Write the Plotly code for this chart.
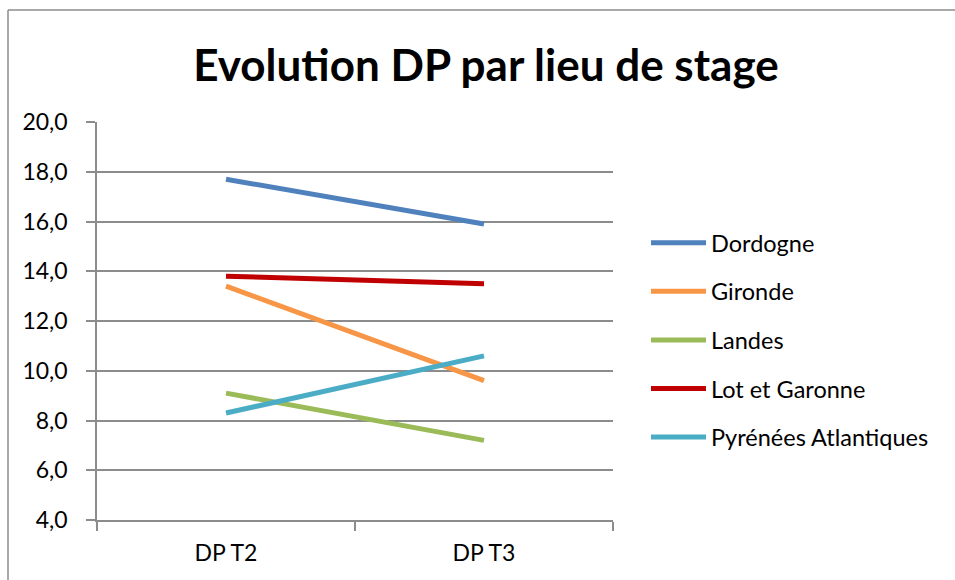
import plotly.graph_objects as go

# Évolution de la DP par lieu de stage
periodes = ["DP T2", "DP T3"]
lieux = ["Dordogne", "Gironde", "Landes", "Lot et Garonne", "Pyrénées Atlantiques"]
dordogne = [17.7, 15.9]
gironde = [13.4, 9.6]
landes = [9.1, 7.2]
lot_et_garonne = [13.8, 13.5]
pyrenees_atlantiques = [8.3, 10.6]
couleurs = ["#4F81BD", "#F79646", "#9BBB59", "#C00000", "#4BACC6"]

series = [dordogne, gironde, landes, lot_et_garonne, pyrenees_atlantiques]

FONT = "Lato"
GRID = "#8C8C8C"

fig = go.Figure()
for nom, valeurs, couleur in zip(lieux, series, couleurs):
    fig.add_trace(go.Scatter(
        x=periodes, y=valeurs, name=nom, mode="lines",
        legendgroup=nom,
        line=dict(color=couleur, width=5),
    ))

# plot area spans pixels x 97..613, y 122..520
L, R, T, B = 97, 613, 122, 520
W, H = 955, 580
pw, ph = R - L, B - T

def px(x):
    return (x - L) / pw

def py(y):
    return (B - y) / ph

fig.update_layout(
    width=W, height=H,
    margin=dict(l=L, r=W - R, t=T, b=H - B, pad=0),
    paper_bgcolor="white", plot_bgcolor="white",
    separators=", ",
    font=dict(family=FONT, size=23, color="#000000"),
    title=dict(
        text="<b>Evolution DP par lieu de stage</b>",
        font=dict(family=FONT, size=44, color="#000000"),
        x=486 / W, xanchor="center", xref="container",
        y=1 - 66 / H, yanchor="middle", yref="container",
    ),
    showlegend=True,
    legend=dict(
        x=px(646), xanchor="left",
        y=py(221), yanchor="top",
        font=dict(family=FONT, size=23.5, color="#000000"),
        tracegroupgap=15,
        bgcolor="rgba(0,0,0,0)",
        itemwidth=55,
    ),
    xaxis=dict(
        type="category",
        showgrid=False,
        showline=True, linecolor=GRID, linewidth=1.5,
        ticks="outside", ticklen=9, tickcolor=GRID, tickwidth=1.5,
        tickson="boundaries",
        tickfont=dict(family=FONT, size=23),
        ticklabelstandoff=12,
        range=[-0.5, 1.5],
        fixedrange=True,
    ),
    yaxis=dict(
        range=[4, 20], dtick=2, tick0=4,
        tickformat=".1f",
        showgrid=True, gridcolor=GRID, gridwidth=1.5,
        showline=True, linecolor=GRID, linewidth=1.5,
        ticks="outside", ticklen=9, tickcolor=GRID, tickwidth=1.5,
        tickfont=dict(family=FONT, size=23),
        ticklabelstandoff=14,
        zeroline=False,
        fixedrange=True,
    ),
)

# chart-area border (left and top edges)
fig.add_shape(type="line", xref="paper", yref="paper",
              x0=px(8), x1=px(8), y0=py(10), y1=py(600),
              line=dict(color="#8C8C8C", width=1.5))
fig.add_shape(type="line", xref="paper", yref="paper",
              x0=px(8), x1=px(960), y0=py(10), y1=py(10),
              line=dict(color="#8C8C8C", width=1.5))

fig.write_html("out.html")
